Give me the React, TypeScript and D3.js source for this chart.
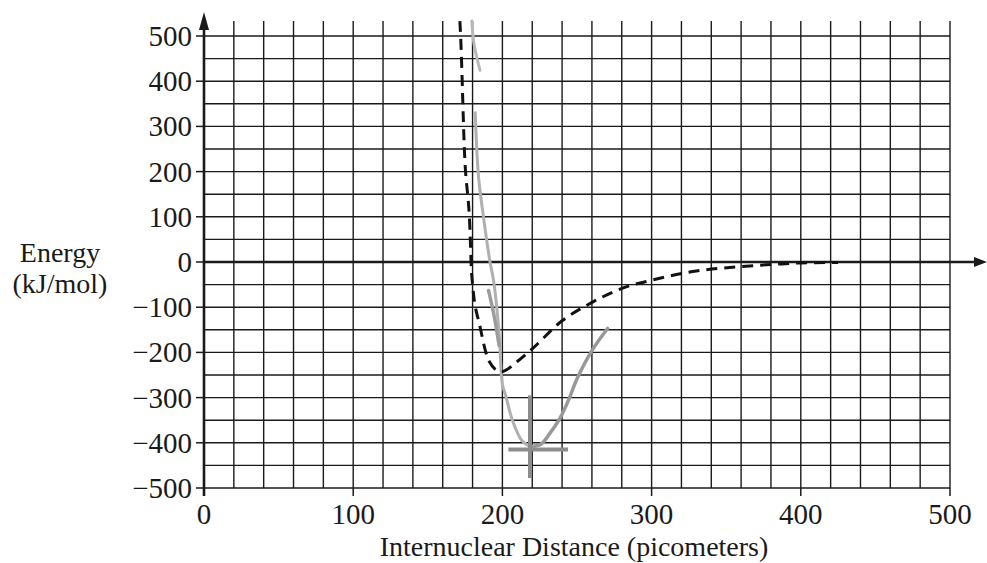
import React, { useEffect, useRef } from "react";
import * as d3 from "d3";

// values (x in pm, y in kJ/mol)
const xTicks = [0, 100, 200, 300, 400, 500];
const yTicks = [500, 400, 300, 200, 100, 0, -100, -200, -300, -400, -500];

const dashedX = [171.5, 172, 174.5, 178.5, 179, 180, 185, 191, 199, 210, 220, 240, 257, 283, 298, 330, 360, 383, 400, 425];
const dashedY = [533, 500, 250, 50, 0, -50, -143, -219, -243, -220, -192, -130, -95, -55, -42, -20, -10, -5, -2, -1];

// pencil sketch, top stroke
const pencilTopX = [179.5, 181, 185];
const pencilTopY = [533, 482, 424];

// pencil sketch, long left stroke down to the well
const pencilLeftX = [181.8, 184, 187.3, 191.3, 194.4, 197.8, 200, 202, 206.7, 213, 218.5];
const pencilLeftY = [330, 189, 100, 8, -48, -158, -271, -293, -350, -395, -408];

// short darker stroke next to it
const pencilShortX = [190.7, 194.5, 197.8];
const pencilShortY = [-63, -120, -185];

// right side of the well
const pencilRightX = [218.5, 225.8, 232, 239, 245, 249.5, 260, 270.5];
const pencilRightY = [-408, -403, -378, -343, -300, -262, -196, -147];

// the cross marking the minimum
const crossX = 218.5;
const crossYRange = [-295, -478];
const crossY = -415;
const crossXRange = [204, 244];

const zip = (xs: number[], ys: number[]) => xs.map((x, i) => [x, ys[i]] as [number, number]);

const App = () => {
  const svgRef = useRef<SVGSVGElement>(null);

  useEffect(() => {
    const width = 987;
    const height = 563;
    const svg = d3.select(svgRef.current);
    svg.selectAll("*").remove();

    const x = d3.scaleLinear().domain([0, 500]).range([204, 950]);
    const y = d3.scaleLinear().domain([-500, 500]).range([488, 36]);
    const ink = "#1a1a1a";
    const font = "'Liberation Serif', 'Times New Roman', serif";

    // grid
    const grid = svg.append("g").attr("stroke", ink).attr("stroke-width", 1.4);
    grid
      .selectAll("line.v")
      .data(d3.range(20, 501, 20))
      .join("line")
      .attr("class", "v")
      .attr("x1", (d) => x(d))
      .attr("x2", (d) => x(d))
      .attr("y1", y(-500))
      .attr("y2", y(533));
    grid
      .selectAll("line.h")
      .data(d3.range(-500, 501, 50))
      .join("line")
      .attr("class", "h")
      .attr("x1", x(0))
      .attr("x2", x(500))
      .attr("y1", (d) => y(d))
      .attr("y2", (d) => y(d));

    // tick marks
    svg
      .append("g")
      .attr("stroke", ink)
      .attr("stroke-width", 1.5)
      .selectAll("line")
      .data(yTicks)
      .join("line")
      .attr("x1", x(0) - 8)
      .attr("x2", x(0))
      .attr("y1", (d) => y(d))
      .attr("y2", (d) => y(d));
    svg
      .append("g")
      .attr("stroke", ink)
      .attr("stroke-width", 1.5)
      .selectAll("line")
      .data(xTicks)
      .join("line")
      .attr("x1", (d) => x(d))
      .attr("x2", (d) => x(d))
      .attr("y1", y(-500))
      .attr("y2", y(-500) + 8);

    // axes with arrowheads
    svg
      .append("line")
      .attr("x1", x(0))
      .attr("x2", x(0))
      .attr("y1", y(-500) + 8)
      .attr("y2", 26)
      .attr("stroke", ink)
      .attr("stroke-width", 2.6);
    svg
      .append("path")
      .attr("d", `M${x(0)},12 L${x(0) - 5},30 L${x(0) + 5},30 Z`)
      .attr("fill", ink);
    svg
      .append("line")
      .attr("x1", x(0))
      .attr("x2", 976)
      .attr("y1", y(0))
      .attr("y2", y(0))
      .attr("stroke", ink)
      .attr("stroke-width", 2.6);
    svg
      .append("path")
      .attr("d", `M987,${y(0)} L974,${y(0) - 5} L974,${y(0) + 5} Z`)
      .attr("fill", ink);

    // tick labels
    svg
      .append("g")
      .attr("font-family", font)
      .attr("font-size", 29)
      .attr("fill", ink)
      .attr("text-anchor", "end")
      .selectAll("text")
      .data(yTicks)
      .join("text")
      .attr("x", x(0) - 12)
      .attr("y", (d) => y(d) + 10)
      .text((d) => (d < 0 ? `\u2212${-d}` : `${d}`));
    svg
      .append("g")
      .attr("font-family", font)
      .attr("font-size", 29)
      .attr("fill", ink)
      .attr("text-anchor", "middle")
      .selectAll("text")
      .data(xTicks)
      .join("text")
      .attr("x", (d) => x(d))
      .attr("y", y(-500) + 36)
      .text((d) => `${d}`);

    // axis titles
    svg
      .append("text")
      .attr("x", 574)
      .attr("y", 556)
      .attr("text-anchor", "middle")
      .attr("font-family", font)
      .attr("font-size", 28)
      .attr("fill", ink)
      .text("Internuclear Distance (picometers)");
    const yTitle = svg
      .append("text")
      .attr("text-anchor", "middle")
      .attr("font-family", font)
      .attr("font-size", 28)
      .attr("fill", ink);
    yTitle.append("tspan").attr("x", 60).attr("y", 262).text("Energy");
    yTitle.append("tspan").attr("x", 60).attr("y", 293).text("(kJ/mol)");

    // pencil sketch
    const line = d3
      .line<[number, number]>()
      .x((d) => x(d[0]))
      .y((d) => y(d[1]))
      .curve(d3.curveCatmullRom.alpha(0.5));

    const pencil = (pts: [number, number][], color: string, w: number) =>
      svg
        .append("path")
        .attr("d", line(pts))
        .attr("fill", "none")
        .attr("stroke", color)
        .attr("stroke-width", w)
        .attr("stroke-linecap", "round");

    pencil(zip(pencilTopX, pencilTopY), "#b8b8b8", 3);
    pencil(zip(pencilLeftX, pencilLeftY), "#b0b0b0", 3);
    pencil(zip(pencilShortX, pencilShortY), "#9c9c9c", 3.5);
    pencil(zip(pencilRightX, pencilRightY), "#999", 3.5);

    svg
      .append("line")
      .attr("x1", x(crossX))
      .attr("x2", x(crossX))
      .attr("y1", y(crossYRange[0]))
      .attr("y2", y(crossYRange[1]))
      .attr("stroke", "#8c8c8c")
      .attr("stroke-width", 4);
    svg
      .append("line")
      .attr("x1", x(crossXRange[0]))
      .attr("x2", x(crossXRange[1]))
      .attr("y1", y(crossY))
      .attr("y2", y(crossY))
      .attr("stroke", "#8c8c8c")
      .attr("stroke-width", 4);

    // dashed potential energy curve
    const dashedLine = d3
      .line<[number, number]>()
      .x((d) => x(d[0]))
      .y((d) => y(d[1]))
      .curve(d3.curveMonotoneX);
    svg
      .append("path")
      .attr("d", dashedLine(zip(dashedX, dashedY)))
      .attr("fill", "none")
      .attr("stroke", "#111")
      .attr("stroke-width", 3)
      .attr("stroke-dasharray", "11,7");

    svg.attr("width", width).attr("height", height);
  }, []);

  return (
    <svg
      ref={svgRef}
      style={{ position: "absolute", left: 0, top: 0, background: "#fff" }}
    />
  );
};

export default App;
